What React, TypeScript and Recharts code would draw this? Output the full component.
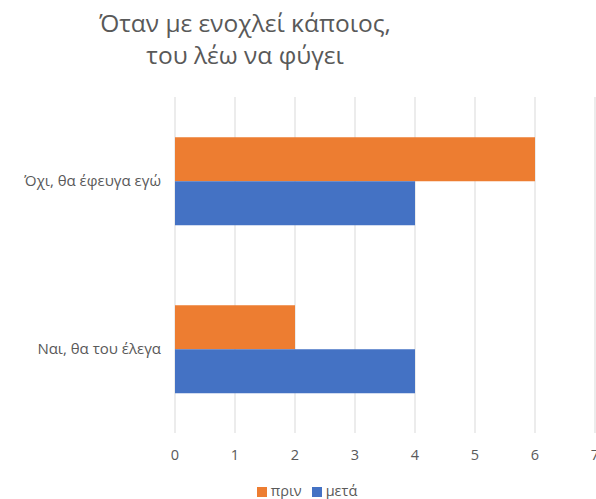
import React from 'react';
import { BarChart, Bar, XAxis, YAxis, CartesianGrid, Legend } from 'recharts';

const categories = ['Όχι, θα έφευγα εγώ', 'Ναι, θα του έλεγα'];
const before = [6, 2];
const after = [4, 4];
const xTicks = [0, 1, 2, 3, 4, 5, 6, 7];
const titleLines = ['Όταν με ενοχλεί κάποιος,', 'του λέω να φύγει'];
const seriesOrder = ['πριν', 'μετά'];

const data = categories.map((c, i) => ({ name: c, 'πριν': before[i], 'μετά': after[i] }));

const FONT = '"Open Sans", "Noto Sans", sans-serif';

export default function App() {
  return (
    <div style={{ position: 'absolute', left: 0, top: 0, width: 596, height: 499, background: '#fff', fontFamily: FONT }}>
      <div style={{ position: 'absolute', left: 0, top: 7, width: 490, textAlign: 'center', color: '#595959', fontSize: 24.5, lineHeight: '32px' }}>
        {titleLines.map((t) => (
          <div key={t}>{t}</div>
        ))}
      </div>
      <BarChart
        width={596}
        height={499}
        data={data}
        layout="vertical"
        margin={{ top: 97, right: 1, bottom: 17, left: 0 }}
        barCategoryGap="24%"
        barGap={0}
      >
        <CartesianGrid horizontal={false} stroke="#d9d9d9" />
        <XAxis
          type="number"
          domain={[0, 7]}
          ticks={xTicks}
          axisLine={false}
          tickLine={false}
          tickMargin={11}
          tick={{ fill: '#595959', fontSize: 14.5, fontFamily: FONT }}
          interval={0}
        />
        <YAxis
          type="category"
          dataKey="name"
          width={175}
          axisLine={false}
          tickLine={false}
          tickMargin={8}
          tick={{ fill: '#595959', fontSize: 15, fontFamily: FONT }}
        />
        <Legend
          verticalAlign="bottom"
          iconType="square"
          iconSize={10}
          itemSorter={(item: any) => seriesOrder.indexOf(item.value)}
          wrapperStyle={{ top: 481, left: 14, width: 596, fontSize: 14.5, fontFamily: FONT }}
          formatter={(v) => <span style={{ color: '#595959' }}>{v}</span>}
        />
        <Bar dataKey="πριν" fill="#ED7D31" isAnimationActive={false} />
        <Bar dataKey="μετά" fill="#4472C4" isAnimationActive={false} />
      </BarChart>
    </div>
  );
}
